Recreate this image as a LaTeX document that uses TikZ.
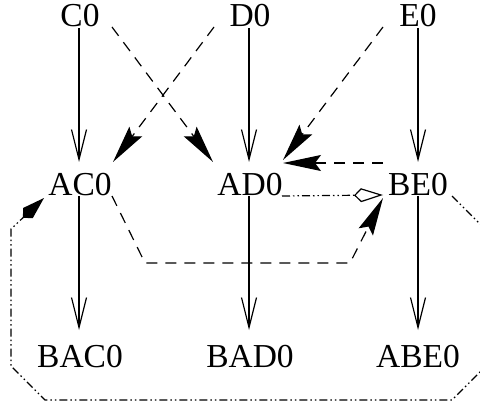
\documentclass[tikz,border=0pt]{standalone}
\usepackage{fontspec}
\setmainfont{Liberation Serif}
\usetikzlibrary{arrows.meta,calc}

\tikzset{
  lbl/.style={anchor=base, inner sep=0pt, font=\fontsize{33.5}{33.5}\selectfont},
  edge/.style={line width=1.2pt},
  openv/.style={edge, -{Straight Barb[length=30pt,width=15pt,line width=1.2pt]}},
  sharp/.style={edge, dash pattern=on 11pt off 8pt, -{Stealth[length=38pt,width=16pt,inset=6pt]}},
  ddot/.style={edge, dash pattern=on 8pt off 3pt on 1.5pt off 3pt on 1.5pt off 3pt}
}

\begin{document}
\begin{tikzpicture}[x=1pt,y=-1pt]
\useasboundingbox (0,0) rectangle (480,404);
\clip (0,0) rectangle (480,404);

% top row
\node[lbl] (C0) at (80,27) {C0};
\node[lbl] (D0) at (250,27) {D0};
\node[lbl] (E0) at (418,27) {E0};
% middle row
\node[lbl] (AC0) at (80,195) {AC0};
\node[lbl] (AD0) at (250,195) {AD0};
\node[lbl] (BE0) at (418,195) {BE0};
% bottom row
\node[lbl] (BAC0) at (80,367) {BAC0};
\node[lbl] (BAD0) at (250,367) {BAD0};
\node[lbl] (ABE0) at (418,367) {ABE0};

% solid vertical edges
\draw[openv] ($(C0.base)+(-1,1)$) -- ($(AC0.base)+(-1,-33)$);
\draw[openv] ($(D0.base)+(-1,1)$) -- ($(AD0.base)+(-1,-33)$);
\draw[openv] ($(E0.base)+(0,1)$) -- ($(BE0.base)+(0,-33)$);
\draw[openv] ($(AC0.base)+(-1,1)$) -- ($(BAC0.base)+(-1,-37)$);
\draw[openv] ($(AD0.base)+(-1,1)$) -- ($(BAD0.base)+(-1,-37)$);
\draw[openv] ($(BE0.base)+(0,1)$) -- ($(ABE0.base)+(0,-37)$);

% dashed edges
\draw[sharp] ($(C0.base)+(32,0)$) -- ($(AD0.base)+(-37,-33)$);
\draw[sharp] ($(D0.base)+(-36,0)$) -- ($(AC0.base)+(33,-33)$);
\draw[sharp] ($(E0.base)+(-35,0)$) -- ($(AD0.base)+(33,-35)$);
\draw[sharp] ($(BE0.base)+(-35,-32)$) -- ($(AD0.base)+(33,-32)$);
\draw[sharp] ($(AC0.base)+(32,1)$) -- ($(AC0.base)+(65,68)$)
  -- ($(BE0.base)+(-68,68)$) -- ($(BE0.base)+(-35,3)$);

% dash-dot-dot edges
\draw[ddot, -{Kite[open,length=29pt,width=14pt,inset=7pt,line width=1.2pt]}]
  ($(AD0.base)+(32,1)$) -- ($(BE0.base)+(-35,0)$);
\draw[ddot, -{Kite[length=29pt,width=14pt,inset=7pt]}]
  ($(BE0.base)+(34,1)$) -- ($(BE0.base)+(72,39)$)
  -- ($(ABE0.base)+(72,-5)$) -- ($(ABE0.base)+(34,33)$)
  -- ($(BAC0.base)+(-35,33)$) -- ($(BAC0.base)+(-69,-1)$)
  -- ($(AC0.base)+(-69,34)$) -- ($(AC0.base)+(-36,3)$);
\end{tikzpicture}
\end{document}
